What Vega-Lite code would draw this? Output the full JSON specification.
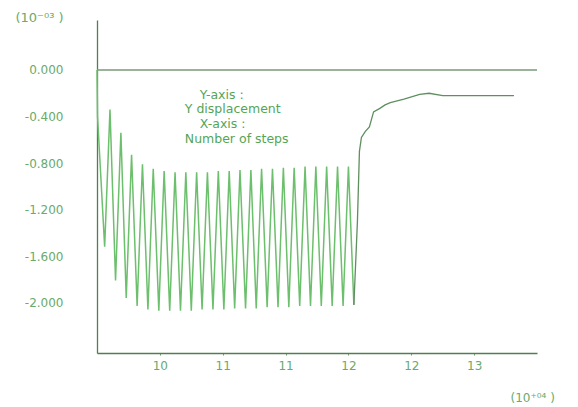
{
  "$schema": "https://vega.github.io/schema/vega-lite/v6.json",
  "width": 440,
  "height": 333,
  "autosize": {"type": "none"},
  "padding": {"left": 97, "top": 20, "right": 41, "bottom": 54},
  "background": "white",
  "config": {
    "view": {"stroke": null},
    "font": "DejaVu Sans",
    "locale": {"number": {"decimal": ".", "thousands": ",", "grouping": [3], "currency": ["$", ""], "minus": "-"}},
    "axis": {"grid": false, "labelFont": "DejaVu Sans", "titleFont": "DejaVu Sans"}
  },
  "datasets": {
    "disp": [
      {"x": 9.400, "y": 0.00}, {"x": 9.405, "y": -0.40}, {"x": 9.473, "y": -1.52},
      {"x": 9.524, "y": -0.34}, {"x": 9.577, "y": -1.81}, {"x": 9.628, "y": -0.54},
      {"x": 9.679, "y": -1.96}, {"x": 9.730, "y": -0.73}, {"x": 9.783, "y": -2.03},
      {"x": 9.834, "y": -0.81}, {"x": 9.886, "y": -2.06}, {"x": 9.937, "y": -0.85},
      {"x": 9.990, "y": -2.07}, {"x": 10.041, "y": -0.87}, {"x": 10.094, "y": -2.07},
      {"x": 10.145, "y": -0.88}, {"x": 10.197, "y": -2.07}, {"x": 10.248, "y": -0.88},
      {"x": 10.300, "y": -2.07}, {"x": 10.351, "y": -0.88}, {"x": 10.403, "y": -2.06},
      {"x": 10.454, "y": -0.88}, {"x": 10.507, "y": -2.06}, {"x": 10.558, "y": -0.87},
      {"x": 10.611, "y": -2.06}, {"x": 10.662, "y": -0.87}, {"x": 10.714, "y": -2.05},
      {"x": 10.765, "y": -0.86}, {"x": 10.818, "y": -2.05}, {"x": 10.869, "y": -0.86},
      {"x": 10.920, "y": -2.05}, {"x": 10.971, "y": -0.85}, {"x": 11.024, "y": -2.04},
      {"x": 11.075, "y": -0.85}, {"x": 11.128, "y": -2.04}, {"x": 11.179, "y": -0.84},
      {"x": 11.231, "y": -2.04}, {"x": 11.282, "y": -0.84}, {"x": 11.335, "y": -2.03},
      {"x": 11.386, "y": -0.83}, {"x": 11.438, "y": -2.03}, {"x": 11.489, "y": -0.83},
      {"x": 11.541, "y": -2.03}, {"x": 11.592, "y": -0.83}, {"x": 11.645, "y": -2.03},
      {"x": 11.696, "y": -0.83}, {"x": 11.749, "y": -2.03}, {"x": 11.800, "y": -0.83},
      {"x": 11.852, "y": -2.02}, {"x": 11.886, "y": -1.30}, {"x": 11.905, "y": -0.70},
      {"x": 11.924, "y": -0.58}, {"x": 11.960, "y": -0.53}, {"x": 12.000, "y": -0.49},
      {"x": 12.040, "y": -0.36}, {"x": 12.100, "y": -0.33}, {"x": 12.150, "y": -0.30},
      {"x": 12.200, "y": -0.28}, {"x": 12.330, "y": -0.25}, {"x": 12.480, "y": -0.21},
      {"x": 12.570, "y": -0.20}, {"x": 12.700, "y": -0.22}, {"x": 13.380, "y": -0.22}
    ]
  },
  "layer": [
    {
      "data": {"values": [{}]},
      "mark": {"type": "rule", "color": "#7a9a7a", "strokeWidth": 1.3},
      "encoding": {"y": {"datum": 0, "scale": {"domain": [-2.434, 0.43], "nice": false, "zero": false}}}
    },
    {
      "data": {"name": "disp"},
      "transform": [{"filter": "datum.x <= 11.852"}],
      "mark": {"type": "line", "color": "#6cbf6c", "strokeWidth": 1.5},
      "encoding": {
        "x": {
          "field": "x", "type": "quantitative",
          "scale": {"domain": [9.4, 13.6], "nice": false, "zero": false},
          "axis": {
            "values": [10.0, 10.6, 11.2, 11.8, 12.4, 13.0],
            "format": ".0f",
            "domainColor": "#4f7f4f",
            "domainWidth": 1.3,
            "tickColor": "#6f9f6f",
            "tickSize": 2,
            "labelPadding": 5,
            "labelColor": "#6aaa6a",
            "labelFontSize": 12,
            "title": "(10⁺⁰⁴   )",
            "titleColor": "#6aaa6a",
            "titleFontSize": 12,
            "titleFontWeight": "normal",
            "titleAngle": 0,
            "titleAlign": "left",
            "titleBaseline": "middle",
            "titleX": 413,
            "titleY": 44
          }
        },
        "y": {
          "field": "y", "type": "quantitative",
          "scale": {"domain": [-2.434, 0.43], "nice": false, "zero": false},
          "axis": {
            "values": [0, -0.4, -0.8, -1.2, -1.6, -2.0],
            "format": ".3f",
            "domainColor": "#4f7f4f",
            "domainWidth": 1.3,
            "ticks": false,
            "labelPadding": 34,
            "labelColor": "#6aaa6a",
            "labelFontSize": 12,
            "title": "(10⁻⁰³     )",
            "titleColor": "#6aaa6a",
            "titleFontSize": 13,
            "titleFontWeight": "normal",
            "titleAngle": 0,
            "titleAlign": "left",
            "titleBaseline": "middle",
            "titleX": -82,
            "titleY": -3
          }
        }
      }
    },
    {
      "data": {"name": "disp"},
      "transform": [{"filter": "datum.x >= 11.852"}],
      "mark": {"type": "line", "color": "#5f8f5f", "strokeWidth": 1.3},
      "encoding": {
        "x": {"field": "x", "type": "quantitative"},
        "y": {"field": "y", "type": "quantitative"}
      }
    },
    {
      "data": {"values": [{}]},
      "mark": {"type": "text", "align": "left", "baseline": "middle", "fontSize": 12.5, "color": "#55a555"},
      "encoding": {"x": {"datum": 10.381}, "y": {"datum": -0.215}, "text": {"value": "Y-axis :"}}
    },
    {
      "data": {"values": [{}]},
      "mark": {"type": "text", "align": "left", "baseline": "middle", "fontSize": 12.5, "color": "#55a555"},
      "encoding": {"x": {"datum": 10.238}, "y": {"datum": -0.335}, "text": {"value": "Y displacement"}}
    },
    {
      "data": {"values": [{}]},
      "mark": {"type": "text", "align": "left", "baseline": "middle", "fontSize": 12.5, "color": "#55a555"},
      "encoding": {"x": {"datum": 10.381}, "y": {"datum": -0.464}, "text": {"value": "X-axis :"}}
    },
    {
      "data": {"values": [{}]},
      "mark": {"type": "text", "align": "left", "baseline": "middle", "fontSize": 12.5, "color": "#55a555"},
      "encoding": {"x": {"datum": 10.238}, "y": {"datum": -0.593}, "text": {"value": "Number of steps"}}
    }
  ]
}
